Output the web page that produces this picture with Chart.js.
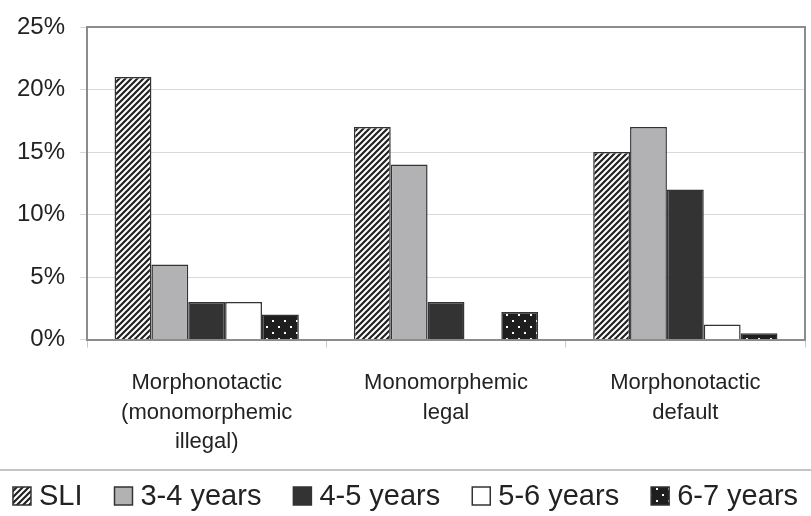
<!DOCTYPE html>
<html>
<head>
<meta charset="utf-8">
<script src="https://cdn.jsdelivr.net/npm/chart.js@4.4.0/dist/chart.umd.min.js"></script>
<style>
  html, body { margin: 0; padding: 0; background: #fff; }
  #wrap { width: 811px; height: 516px; }
</style>
</head>
<body>
<div id="wrap"><canvas id="chart"></canvas></div>
<script>
// Chart values (percent)
const categories = [
  ['Morphonotactic', '(monomorphemic', 'illegal)'],
  ['Monomorphemic', 'legal'],
  ['Morphonotactic', 'default']
];
const seriesNames = ['SLI', '3-4 years', '4-5 years', '5-6 years', '6-7 years'];
const sli = [21, 17, 15];
const years34 = [6, 14, 17];
const years45 = [3, 3, 12];
const years56 = [3, 0, 1.2];
const years67 = [2, 2.2, 0.5];
const yTicks = [0, 5, 10, 15, 20, 25];

const FONT = 'Liberation Sans, Arial, sans-serif';

// Fill patterns
function hatchPattern() {
  const c = document.createElement('canvas');
  c.width = 6; c.height = 6;
  const g = c.getContext('2d');
  g.fillStyle = '#fff';
  g.fillRect(0, 0, 6, 6);
  g.strokeStyle = '#222';
  g.lineWidth = 2.2;
  g.beginPath();
  g.moveTo(-1, 7); g.lineTo(7, -1);
  g.moveTo(-4, 4); g.lineTo(4, -4);
  g.moveTo(2, 10); g.lineTo(10, 2);
  g.stroke();
  return g.createPattern(c, 'repeat');
}

function dotPattern() {
  const c = document.createElement('canvas');
  c.width = 12; c.height = 12;
  const g = c.getContext('2d');
  g.fillStyle = '#1e1e1e';
  g.fillRect(0, 0, 12, 12);
  g.fillStyle = '#fff';
  g.fillRect(2, 2, 2, 2);
  g.fillRect(8, 8, 2, 2);
  return g.createPattern(c, 'repeat');
}

const fills = [hatchPattern(), '#b2b2b4', '#333333', '#ffffff', dotPattern()];
const values = [sli, years34, years45, years56, years67];

// Frame around plot area, line above legend and the legend itself
const framePlugin = {
  id: 'frame',
  afterDraw(chart) {
    const { ctx, chartArea } = chart;
    ctx.save();
    ctx.strokeStyle = '#8c8c8c';
    ctx.lineWidth = 2;
    ctx.beginPath();
    ctx.moveTo(chartArea.left, chartArea.top);
    ctx.lineTo(chartArea.right, chartArea.top);
    ctx.lineTo(chartArea.right, chartArea.bottom);
    ctx.stroke();

    // separator
    const sepY = chart.height - 46;
    ctx.strokeStyle = '#b0b0b0';
    ctx.lineWidth = 1.5;
    ctx.beginPath();
    ctx.moveTo(0, sepY);
    ctx.lineTo(chart.width, sepY);
    ctx.stroke();

    // legend
    const box = 18, gapText = 8, gapItem = 32;
    ctx.font = '29px ' + FONT;
    const items = chart.data.datasets.map(ds => ({
      label: ds.label, fill: ds.backgroundColor, w: ctx.measureText(ds.label).width
    }));
    const total = items.reduce((s, it) => s + box + gapText + it.w, 0) + gapItem * (items.length - 1);
    let x = (chart.width - total) / 2;
    const cy = chart.height - 20;
    ctx.textBaseline = 'middle';
    ctx.textAlign = 'left';
    items.forEach(it => {
      ctx.fillStyle = it.fill;
      ctx.fillRect(x, cy - box / 2, box, box);
      ctx.strokeStyle = '#333';
      ctx.lineWidth = 1.5;
      ctx.strokeRect(x, cy - box / 2, box, box);
      ctx.fillStyle = '#222';
      ctx.fillText(it.label, x + box + gapText, cy + 1);
      x += box + gapText + it.w + gapItem;
    });
    ctx.restore();
  }
};

new Chart(document.getElementById('chart'), {
  type: 'bar',
  data: {
    labels: categories,
    datasets: seriesNames.map((name, i) => ({
      label: name,
      data: values[i],
      backgroundColor: fills[i],
      borderColor: '#333',
      borderWidth: 1.5,
      borderSkipped: 'bottom',
      categoryPercentage: 0.77,
      barPercentage: 1
    }))
  },
  options: {
    responsive: true,
    maintainAspectRatio: false,
    animation: false,
    layout: { padding: { left: 2, right: 6, top: 8, bottom: 38 } },
    plugins: {
      tooltip: { enabled: false },
      legend: { display: false }
    },
    scales: {
      x: {
        grid: {
          offset: true,
          drawOnChartArea: false,
          tickLength: 8,
          color: '#c8c8c8'
        },
        border: { color: '#8c8c8c', width: 2 },
        ticks: {
          padding: 21,
          color: '#222',
          maxRotation: 0,
          font: { family: FONT, size: 22, lineHeight: 1.34 }
        }
      },
      y: {
        min: 0,
        max: 25,
        afterBuildTicks(axis) { axis.ticks = yTicks.map(v => ({ value: v })); },
        grid: { color: '#d9d9d9', tickLength: 7 },
        border: { color: '#8c8c8c', width: 2 },
        ticks: {
          padding: 15,
          color: '#222',
          font: { family: FONT, size: 24, lineHeight: 1.0 },
          callback: v => v + '%'
        }
      }
    }
  },
  plugins: [framePlugin]
});
</script>
</body>
</html>
